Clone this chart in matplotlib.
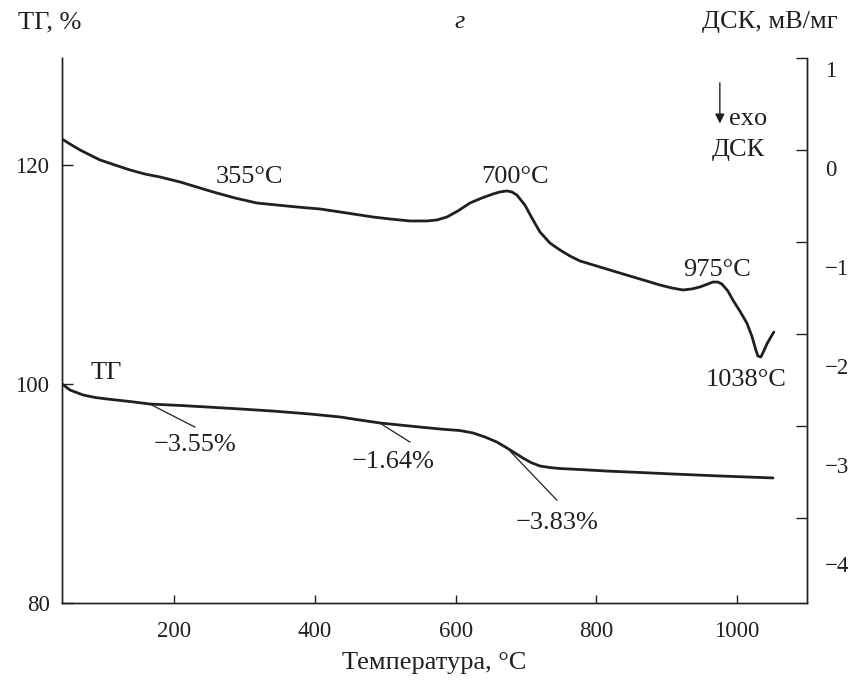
import numpy as np
import matplotlib
matplotlib.use("Agg")
import matplotlib.pyplot as plt

plt.rcParams['font.family'] = ['Liberation Serif', 'DejaVu Serif']
plt.rcParams['axes.unicode_minus'] = True

# ---- data ----
dsc_T = [40.0, 51.4, 65.6, 79.8, 94.1, 115.4, 136.7, 158.1, 179.4, 207.9, 236.3,
         254.8, 286.1, 317.4, 345.8, 374.3, 407.0, 435.5, 463.9, 482.4, 506.6,
         535.1, 559.2, 573.4, 587.7, 603.3, 620.4, 637.4, 653.1, 663.0, 673.0,
         680.1, 687.2, 698.6, 708.6, 720.0, 734.2, 748.5, 762.7, 776.9, 805.4,
         833.7, 862.2, 890.7, 907.8, 923.4, 936.2, 947.5, 958.9, 966.0, 973.1,
         978.8, 987.4, 994.5, 1004.4, 1014.4, 1021.5, 1027.2, 1030.1, 1034.4,
         1038.6, 1042.9, 1048.6, 1052.8]
dsc_v = [0.293, 0.242, 0.182, 0.131, 0.081, 0.030, -0.020, -0.061, -0.091,
         -0.141, -0.202, -0.242, -0.303, -0.354, -0.374, -0.394, -0.414, -0.444,
         -0.475, -0.495, -0.515, -0.535, -0.535, -0.525, -0.495, -0.434, -0.354,
         -0.303, -0.263, -0.242, -0.232, -0.242, -0.273, -0.374, -0.505, -0.646,
         -0.758, -0.828, -0.889, -0.939, -1.000, -1.061, -1.121, -1.182, -1.212,
         -1.232, -1.222, -1.202, -1.172, -1.152, -1.152, -1.172, -1.242, -1.333,
         -1.444, -1.566, -1.697, -1.838, -1.899, -1.909, -1.848, -1.778, -1.707,
         -1.657]

tg_T = [40.0, 51.4, 69.9, 86.9, 104.0, 136.7, 165.2, 207.9, 246.3, 293.2, 340.1,
        392.8, 435.5, 463.9, 492.4, 535.1, 577.7, 606.2, 624.7, 641.8, 658.8,
        673.0, 684.4, 695.8, 707.2, 720.0, 734.2, 748.5, 776.9, 815.4, 862.3,
        909.3, 976.1, 1051.5]
tg_v = [100.0, 99.45, 99.00, 98.77, 98.63, 98.40, 98.17, 98.04, 97.90, 97.72,
        97.53, 97.26, 96.99, 96.71, 96.44, 96.16, 95.89, 95.75, 95.53, 95.16,
        94.70, 94.16, 93.70, 93.24, 92.83, 92.51, 92.37, 92.28, 92.19, 92.05,
        91.92, 91.78, 91.60, 91.42]

x_ticks = [200, 400, 600, 800, 1000]
tg_ticks = [80, 100, 120]
dsc_labels = [1, 0, -1, -2, -3, -4]
dsc_marks = [1.111, 0.182, -0.747, -1.677, -2.606, -3.535]

# step annotations: (text, curve T, curve value, line end T, line end value, text T, text value)
tg_steps = [("\u22123.55%", 165, 98.17, 229, 96.07, 229, 94.4),
            ("\u22121.64%", 492, 96.44, 535, 94.7, 511, 92.9),
            ("\u22123.83%", 677, 93.9, 744, 89.4, 744, 87.3)]
dsc_peaks = [("355\u00b0C", 307, -0.091), ("700\u00b0C", 684, -0.091),
             ("975\u00b0C", 972, -1.03), ("1038\u00b0C", 1014, -2.14)]

ink = '#231f20'
fs_tick = 16.5
fs = 19

fig = plt.figure(figsize=(8.61, 6.82), dpi=100)
ax = fig.add_axes([62/861, 1-603/682, (807-62)/861, (603-58)/682])
ax2 = ax.twinx()

ax.set_xlim(40, 1100)
ax.set_ylim(80, 80 + 545/10.95)
ax2.set_ylim(-4.394, 1.111)

ax.plot(tg_T, tg_v, color=ink, lw=2.0, solid_capstyle='round', solid_joinstyle='round')
ax2.plot(dsc_T, dsc_v, color=ink, lw=2.0, solid_capstyle='round', solid_joinstyle='round')

for a in (ax, ax2):
    a.spines['top'].set_visible(False)
    for s in a.spines.values():
        s.set_color(ink)
        s.set_linewidth(1.0)

ax.set_xticks(x_ticks)
ax.set_yticks(tg_ticks)
ax.tick_params(axis='x', direction='in', length=6, width=1, colors=ink,
               labelsize=fs_tick, pad=13, top=False)
ax.tick_params(axis='y', direction='in', length=8, width=1, colors=ink,
               labelsize=fs_tick, pad=9)

# right axis: unlabeled marks, labels at integer values
ax2.yaxis.remove_overlapping_locs = False
ax2.set_yticks(dsc_marks)
ax2.set_yticklabels([])
ax2.set_yticks(dsc_labels, minor=True)
ax2.set_yticklabels([f"{v}".replace('-', '\u2212') for v in dsc_labels], minor=True)
ax2.tick_params(axis='y', which='major', direction='in', length=8, width=1, colors=ink)
ax2.tick_params(axis='y', which='minor', length=0, labelsize=fs_tick, pad=13, colors=ink)

ax.set_xlabel("Температура, \u00b0C", fontsize=fs, color=ink, labelpad=7)

fig.text(50/861, 1-22/682, "ТГ, %", fontsize=fs, ha='center', va='center', color=ink)
fig.text(770/861, 1-22/682, "ДСК, мВ/мг", fontsize=fs, ha='center', va='center', color=ink)
fig.text(460/861, 1-22/682, "г", fontsize=fs, ha='center', va='center', color=ink, style='italic')

ax.text(80, 101.0, "ТГ", fontsize=fs, ha='left', va='center', color=ink)
for txt, x0, y0, x1, y1, xt, yt in tg_steps:
    ax.plot([x0, x1], [y0, y1], color=ink, lw=0.9)
    ax.text(xt, yt, txt, fontsize=fs, ha='center', va='center', color=ink)

for txt, xt, yt in dsc_peaks:
    ax2.text(xt, yt, txt, fontsize=fs, ha='center', va='center', color=ink)

ax2.annotate("", xy=(976, 0.45), xytext=(976, 0.86),
             arrowprops=dict(arrowstyle='-|>', color=ink, lw=1.0, mutation_scale=14,
                             shrinkA=0, shrinkB=0))
ax2.text(989, 0.49, "exo", fontsize=fs, ha='left', va='center', color=ink)
ax2.text(1002, 0.18, "ДСК", fontsize=fs, ha='center', va='center', color=ink)

fig.savefig("out.png", dpi=100)
